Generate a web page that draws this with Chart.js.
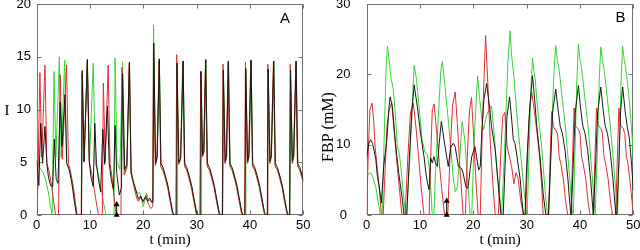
<!DOCTYPE html>
<html><head><meta charset="utf-8">
<script src="https://cdn.jsdelivr.net/npm/chart.js@4.4.1/dist/chart.umd.min.js"></script>
<style>
html,body{margin:0;padding:0;background:#fff;}
#wrap{position:relative;width:640px;height:250px;}
canvas{position:absolute;top:0;}
#ca{left:0}
#cb{left:320px}
</style></head><body>
<div id="wrap"><canvas id="ca" width="320" height="250"></canvas><canvas id="cb" width="320" height="250"></canvas></div>
<script>
// ---- tick labels ----
const xTicks = [0,10,20,30,40,50];
const aTicks = [0,5,10,15,20];
const bTicks = [0,10,20,30];
// ---- marker (arrow at t = 15) ----
const markerA = [[15,0],[15,1]];
const markerB = [[15,0],[15,2]];

// ---- Panel A : I(t) ----
const A_black = [[0,5.2],[0.4,2.8],[0.75,8.7],[1.1,4.9],[1.55,8.4],[1.9,4.9],[2.2,3.6],[2.6,2.8],[3.0,2.7],[3.3,7.2],[3.65,3.4],[4.0,3.0],[4.4,10.7],[4.75,6.5],[5.3,11.4],[5.65,4.9],[6.1,4.3],[6.6,3.0],[7.1,1.2],[7.5,0],[8.4,0],[8.55,13.7],[8.9,5.1],[9.5,14.75],[9.85,5.2],[10.2,3.5],[10.6,2.7],[10.9,8.7],[11.2,4.9],[11.6,3.3],[12.0,2.2],[12.4,8.1],[12.75,4.8],[13.25,10.3],[13.6,4.9],[14.0,3.3],[14.4,2.4],[14.7,8.5],[15.0,4.0],[15.5,1.9],[15.9,2.6],[16.1,13.4],[16.5,4.3],[16.9,4.8],[17.4,14.5],[17.7,4.1],[18.1,3.2],[18.75,2.1],[19.1,1.5],[19.5,1.8],[19.9,1.3],[20.4,1.7],[20.8,1.3],[21.2,1.6],[21.6,1.2],[21.8,1.2],
[21.95,16.3],[22.3,4.9],[22.6,5.6],[23.0,14.8],[23.3,4.9],[23.7,4.5],[24.1,3.8],[24.6,2.8],[25.1,1.4],[25.5,0.3],[25.7,0],[26.15,0],[26.3,14.4],[26.65,5.0],[27.0,5.4],[27.45,14.6],[27.75,4.9],[28.15,4.5],[28.55,3.8],[29.05,2.8],[29.55,1.4],[29.95,0.3],[30.15,0],[30.65,0],[30.8,13.6],[31.1,5.7],[31.35,6.0],[31.7,14.75],[32.0,4.9],[32.4,4.5],[32.8,3.8],[33.3,2.8],[33.8,1.4],[34.2,0.3],[34.4,0],[34.85,0],[35.0,13.7],[35.35,5.1],[35.6,5.6],[35.95,14.6],[36.25,4.9],[36.65,4.5],[37.05,3.8],[37.55,2.8],[38.05,1.4],[38.45,0.3],[38.65,0],[39.05,0],[39.2,13.9],[39.55,5.1],[39.8,5.6],[40.2,14.7],[40.5,4.9],[40.9,4.5],[41.3,3.8],[41.8,2.8],[42.3,1.4],[42.7,0.3],[42.9,0],[43.25,0],[43.4,13.8],[43.75,5.1],[44.0,5.6],[44.45,14.6],[44.75,4.9],[45.15,4.5],[45.55,3.8],[46.05,2.8],[46.55,1.4],[46.95,0.3],[47.15,0],[47.45,0],[47.6,13.7],[47.95,5.1],[48.2,5.6],[48.65,14.6],[48.95,4.9],[49.35,4.5],[49.75,3.8],[50,3.3]];
const A_red = [[0,0],[0.1,0],[0.6,13.5],[0.95,5.5],[1.55,14.2],[1.9,4.9],[2.3,4.2],[2.8,2.8],[3.2,1.2],[3.55,0],[4.1,0],[4.4,13.3],[4.8,5.3],[5.6,14.2],[5.95,4.9],[6.4,4.0],[6.9,2.6],[7.3,1.0],[7.6,0],[8.35,0],[8.5,13.4],[8.85,5.0],[9.5,14.5],[9.85,5.0],[10.3,4.0],[10.8,2.4],[11.3,0.8],[11.6,0],[12.3,0],[12.5,12.5],[12.85,5.0],[13.4,14.2],[13.75,4.9],[14.2,3.3],[14.6,1.2],[14.9,0],[15.8,0],[16.0,14.0],[16.4,3.8],[16.9,4.4],[17.35,14.4],[17.7,3.9],[18.2,2.8],[18.75,1.6],[19.05,1.3],[19.55,1.7],[20.0,1.2],[20.5,1.9],[20.9,1.1],[21.4,0.6],[21.75,0.8],
[21.9,16.0],[22.25,4.7],[22.55,5.4],[22.95,14.6],[23.25,4.6],[23.65,4.2],[24.05,3.6],[24.55,2.6],[25.05,1.2],[25.45,0.2],[25.65,0],[26.1,0],[26.25,15.2],[26.6,4.8],[26.95,5.3],[27.4,14.5],[27.7,4.7],[28.1,4.3],[28.5,3.6],[29.0,2.6],[29.5,1.2],[29.9,0.2],[30.1,0],[30.6,0],[30.75,13.6],[31.05,5.5],[31.3,5.9],[31.65,14.6],[31.95,4.7],[32.35,4.3],[32.75,3.6],[33.25,2.6],[33.75,1.2],[34.15,0.2],[34.35,0],[34.8,0],[34.95,14.3],[35.3,4.9],[35.55,5.5],[35.9,14.5],[36.2,4.7],[36.6,4.3],[37.0,3.6],[37.5,2.6],[38.0,1.2],[38.4,0.2],[38.6,0],[39.0,0],[39.15,14.5],[39.5,4.9],[39.75,5.5],[40.15,14.6],[40.45,4.7],[40.85,4.3],[41.25,3.6],[41.75,2.6],[42.25,1.2],[42.65,0.2],[42.85,0],[43.2,0],[43.35,14.3],[43.7,4.9],[43.95,5.5],[44.4,14.5],[44.7,4.7],[45.1,4.3],[45.5,3.6],[46.0,2.6],[46.5,1.2],[46.9,0.2],[47.1,0],[47.4,0],[47.55,14.3],[47.9,4.9],[48.15,5.5],[48.6,14.5],[48.9,4.7],[49.3,4.3],[49.7,3.6],[50,3.1]];
const A_green = [[0,10.8],[0.4,4.6],[0.8,4.3],[1.3,3.9],[1.75,3.2],[2.2,2.1],[2.6,0.8],[2.9,0],[3.05,0],[3.25,13.6],[3.6,5.5],[4.25,15.0],[4.6,5.5],[5.25,14.7],[5.6,4.9],[6.1,4.3],[6.55,3.3],[7.0,1.7],[7.45,0],[8.4,0],[8.55,13.6],[8.9,5.1],[9.5,14.7],[9.9,5.2],[10.6,14.4],[11.0,4.9],[11.5,4.0],[12.1,2.4],[12.6,1.0],[13.0,0],[14.5,0],[14.7,14.9],[15.05,5.0],[15.6,4.3],[16.1,14.5],[16.5,4.0],[16.95,4.6],[17.4,14.5],[17.7,4.2],[18.2,3.0],[18.75,2.1],[19.35,2.1],[19.7,1.4],[20.0,0.8],[20.6,2.05],[20.9,1.5],[21.2,1.3],[21.78,1.3],
[21.92,18.0],[22.3,4.8],[22.6,5.5],[23.0,14.8],[23.3,4.6],[23.7,4.3],[24.1,3.7],[24.6,2.7],[25.1,1.3],[25.5,0.2],[25.7,0],[26.17,0],[26.32,14.4],[26.67,4.8],[27.0,5.3],[27.47,14.6],[27.77,4.5],[28.17,4.3],[28.57,3.7],[29.07,2.7],[29.57,1.3],[29.97,0.2],[30.17,0],[30.67,0],[30.82,13.6],[31.12,5.5],[31.37,5.9],[31.72,14.7],[32.02,4.5],[32.42,4.3],[32.82,3.7],[33.32,2.7],[33.82,1.3],[34.22,0.2],[34.42,0],[34.87,0],[35.02,13.7],[35.37,4.9],[35.62,5.5],[35.97,14.6],[36.27,4.5],[36.67,4.3],[37.07,3.7],[37.57,2.7],[38.07,1.3],[38.47,0.2],[38.67,0],[39.07,0],[39.22,13.9],[39.57,4.9],[39.82,5.5],[40.22,14.7],[40.52,4.5],[40.92,4.3],[41.32,3.7],[41.82,2.7],[42.32,1.3],[42.72,0.2],[42.92,0],[43.27,0],[43.42,13.8],[43.77,4.9],[44.02,5.5],[44.47,14.6],[44.77,4.5],[45.17,4.3],[45.57,3.7],[46.07,2.7],[46.57,1.3],[46.97,0.2],[47.17,0],[47.47,0],[47.62,13.7],[47.97,4.9],[48.22,5.5],[48.67,14.6],[48.97,4.5],[49.37,4.3],[49.77,3.7],[50,3.2]];

// ---- Panel B : FBP (mM) ----
const B_black = [[0,8.3],[0.4,10.2],[0.75,10.7],[1.1,10.2],[1.7,8.0],[2.0,5.5],[2.35,4.0],[2.75,1.7],[3.2,7.0],[3.75,10.5],[4.2,15.4],[4.4,16.8],[4.8,15.4],[5.4,10.2],[6.0,6.0],[6.7,2.1],[7.0,0],[7.5,0],[8.0,8],[8.5,15],[8.9,18.5],[9.5,15.4],[10.1,11.6],[10.75,8.3],[11.1,6.0],[11.4,4.5],[11.7,3.6],[12.0,8.1],[12.3,7.4],[12.6,8.3],[12.9,7.4],[13.25,6.9],[13.6,10.2],[14.0,13.3],[14.5,10.7],[14.9,8.8],[15.3,6.9],[15.8,9.7],[16.25,10.2],[16.6,9.7],[16.9,8.3],[17.2,6.9],[17.8,6.6],[18.1,5.9],[18.6,4.0],[19.0,3.8],[19.4,6.5],[19.7,8.3],[20.3,9.7],[20.6,8.3],[21.0,6.4],[21.3,6.9],[21.6,12],[22.0,16.5],[22.5,18.7],[23.1,15.0],[23.4,12.6],[24.1,9.3],[24.7,4.0],[25.2,0],[25.6,0],[26.0,8],[26.3,14.0],[26.8,16.8],[27.2,13.5],[27.5,10.7],[27.8,10.2],[28.1,8.8],[28.8,5.0],[29.1,2.2],[29.4,0],[29.7,0],[30.0,7],[30.4,13],[30.6,15.5],[31.1,19.8],[31.5,16.4],[31.9,12.6],[32.5,8.3],[33.1,3.0],[33.6,0],[34.1,0],[34.5,7.5],[34.85,14.5],[35.45,17.9],[35.9,14.9],[36.3,12.6],[36.7,11.6],[37.2,9.2],[37.75,5.0],[38.05,2.0],[38.3,0],[38.35,0],[38.75,7.5],[39.1,14.5],[39.7,18.4],[40.15,14.9],[40.55,12.6],[40.95,11.6],[41.45,9.2],[42.0,5.0],[42.3,2.0],[42.5,0],[42.55,0],[42.95,7.5],[43.3,14.5],[43.9,18.2],[44.35,14.9],[44.75,12.6],[45.15,11.6],[45.65,9.2],[46.2,5.0],[46.5,2.0],[46.75,0],[46.9,0],[47.3,7.5],[47.6,14.5],[48.0,18.2],[48.45,14.9],[48.85,12.6],[49.25,11.0],[49.7,7.0],[50,3.5]];
const B_red = [[0,0],[0.3,9],[0.6,15.0],[1.0,15.9],[1.3,13.5],[1.6,9.5],[2.0,6.5],[2.4,3.5],[2.75,0],[3.1,0],[3.4,5.5],[3.8,12.5],[4.2,15.0],[4.7,15.9],[5.1,12.5],[5.6,8.0],[6.1,4.0],[6.6,0],[7.2,0],[7.7,8.0],[8.2,14.5],[8.75,15.9],[9.2,12.8],[9.7,8.5],[10.2,4.0],[10.75,0],[11.7,0],[12.0,8],[12.3,15.0],[12.65,15.8],[13.1,12],[13.6,7.5],[14.1,3.5],[14.6,0],[15.2,0],[15.6,8.0],[16.1,15.5],[16.6,17.5],[17.0,13],[17.5,6.5],[18.1,0],[18.5,0],[18.9,9],[19.3,15],[19.65,16.7],[20.0,12],[20.4,6],[20.9,0],[21.3,0],[21.7,13],[22.3,25.5],[22.7,19],[23.2,10],[23.7,4],[24.1,0],[24.7,0],[25.1,8],[25.5,14.0],[25.9,14.6],[26.3,10.0],[26.7,8.5],[27.2,6.8],[27.6,4.4],[28.0,6.0],[28.4,5.2],[28.9,2.0],[29.4,0],[29.8,0],[30.2,9],[30.6,15.5],[30.95,17.4],[31.4,15.0],[31.9,12.0],[32.4,8.5],[32.8,4.5],[33.1,0],[34.1,0],[34.4,8],[34.7,14.7],[35.0,12.6],[35.5,12.0],[35.8,11.5],[36.1,8.3],[36.4,7.3],[36.9,5.0],[37.3,2.0],[37.7,0],[38.3,0],[38.6,8],[38.9,15.2],[39.2,12.6],[39.7,12.2],[40.0,11.6],[40.3,8.3],[40.6,7.3],[41.1,5.0],[41.5,2.0],[41.9,0],[42.5,0],[42.8,8],[43.1,15.2],[43.4,12.8],[43.9,12.3],[44.2,11.6],[44.5,8.3],[44.8,7.3],[45.3,5.0],[45.7,2.0],[46.1,0],[46.7,0],[47.0,8],[47.3,15.2],[47.6,12.8],[48.1,12.3],[48.4,11.6],[48.7,8.3],[49.0,7.3],[49.5,4.0],[50,0]];
const B_green = [[0,5.5],[0.4,5.9],[0.75,6.0],[1.1,5.5],[1.7,4.0],[2.3,1.2],[2.6,0],[2.9,0],[3.3,11.6],[3.65,21.1],[3.9,24.0],[4.2,22.0],[4.5,19.7],[5.0,17.8],[5.4,14],[5.75,9.7],[6.1,8.8],[6.4,6.9],[6.8,3.5],[7.3,0],[7.5,0],[8.0,7],[8.6,16.5],[8.9,21.3],[9.35,19.2],[9.8,15.5],[10.4,10.7],[10.9,9.0],[11.4,8.5],[11.7,6.9],[12.0,4.0],[12.3,0],[12.6,0],[12.9,6],[13.5,15],[13.9,20.5],[14.2,21.9],[14.8,17.3],[15.3,13.5],[15.8,9.3],[16.2,5.5],[16.6,3.3],[17.0,4.0],[17.5,8.8],[17.9,13.3],[18.4,10.7],[18.9,5.0],[19.4,0],[19.7,0],[20.2,11.6],[20.8,19.8],[21.2,16.4],[21.6,13.5],[21.9,12.1],[22.5,14.2],[23.4,15.5],[23.9,11.6],[24.5,5.8],[25.3,0],[25.8,8],[26.2,16],[26.5,22],[26.9,26.2],[27.15,23],[27.4,21.1],[27.6,19.7],[27.9,16.8],[28.3,13.0],[28.9,8.3],[29.5,3.6],[30.0,0],[30.1,0],[30.5,10],[30.8,18],[31.1,22.3],[31.35,20.5],[31.6,19.4],[31.9,16.4],[32.4,12.6],[32.8,9.8],[33.4,4],[33.9,0],[34.1,0],[34.5,8],[34.8,14],[35.1,20],[35.45,24.1],[35.75,22],[36.0,21.1],[36.3,19.2],[36.7,16.4],[37.2,13.0],[37.8,7.8],[38.3,3.1],[38.6,0],[38.75,0],[39.1,10],[39.4,19],[39.7,24.3],[40.0,22],[40.25,21.1],[40.55,19.2],[40.95,16.4],[41.45,13.0],[42.05,7.8],[42.55,3.1],[42.85,0],[42.95,0],[43.3,10],[43.6,19],[43.9,23.9],[44.2,22],[44.45,21],[44.75,19.2],[45.15,16.4],[45.65,13],[46.25,7.8],[46.75,3.1],[47.05,0],[47.1,0],[47.4,10],[47.7,19],[48.0,24.0],[48.3,22],[48.55,21],[48.85,19.2],[49.25,16.4],[49.6,13],[50,8.5]];

const BLACK = 'rgb(25,25,25)', RED = 'rgb(230,45,50)', GREEN = 'rgb(50,215,50)';
const FRAME = '#707070';

const pts = arr => arr.map(([x, y]) => ({x, y}));

const decor = {
  id: 'decor',
  beforeDatasetsDraw(chart, args, o) {
    const {ctx, chartArea: a, scales: {x, y}} = chart;
    ctx.save();
    ctx.strokeStyle = FRAME; ctx.lineWidth = 1;
    const L = Math.round(a.left) + 0.5, R = Math.round(a.right) - 0.5, T = Math.round(a.top) + 0.5, B = Math.round(a.bottom) - 0.5;
    ctx.strokeRect(L, T, R - L, B - T);
    ctx.beginPath();
    x.ticks.forEach(t => {
      const p = Math.round(x.getPixelForValue(t.value)) + 0.5;
      ctx.moveTo(p, B); ctx.lineTo(p, B - 4);
      ctx.moveTo(p, T); ctx.lineTo(p, T + 4);
    });
    y.ticks.forEach(t => {
      const p = Math.round(y.getPixelForValue(t.value)) + 0.5;
      ctx.moveTo(L, p); ctx.lineTo(L + 4, p);
      ctx.moveTo(R, p); ctx.lineTo(R - 4, p);
    });
    ctx.stroke();
    ctx.restore();
  },
  afterDraw(chart, args, o) {
    const {ctx, chartArea: a} = chart;
    ctx.save();
    ctx.fillStyle = '#000';
    ctx.textAlign = 'center'; ctx.textBaseline = 'middle';
    ctx.font = '15px "Liberation Sans", Arial, sans-serif';
    ctx.fillText(o.letter, o.letterX, o.letterY);
    ctx.font = '15px "Liberation Serif", "Times New Roman", serif';
    ctx.fillText('t (min)', (a.left + a.right) / 2, 240);
    ctx.font = o.ylabFont;
    ctx.translate(o.ylabX, o.ylabY);
    if (o.ylabRot) ctx.rotate(-Math.PI / 2);
    ctx.fillText(o.ylab, 0, 0);
    ctx.restore();
  }
};

function makeChart(id, series, marker, yTicks, yMax, yWidth, rightPad, labelPad, dec) {
  const tickFont = {family: '"Liberation Sans", Arial, sans-serif', size: 13};
  return new Chart(document.getElementById(id), {
    type: 'line',
    data: {
      datasets: [
        {data: pts(marker), borderColor: '#000', backgroundColor: '#000', borderWidth: 1, pointStyle: 'triangle', pointRadius: 3.5, pointBorderWidth: 0, clip: false},
        {data: pts(series[0]), borderColor: BLACK},
        {data: pts(series[1]), borderColor: RED},
        {data: pts(series[2]), borderColor: GREEN}
      ]
    },
    options: {
      responsive: false, animation: false, maintainAspectRatio: false,
      layout: {padding: {top: 4, right: rightPad, left: 0, bottom: 0}},
      elements: {point: {radius: 0}, line: {borderWidth: 1, tension: 0, fill: false}},
      plugins: {legend: {display: false}, tooltip: {enabled: false}, decor: dec},
      scales: {
        x: {type: 'linear', min: 0, max: 50,
          afterBuildTicks: s => { s.ticks = xTicks.map(v => ({value: v})); },
          ticks: {font: tickFont, color: '#000', padding: 3, maxRotation: 0, autoSkip: false},
          grid: {display: false, drawTicks: false}, border: {display: false},
          afterFit: s => { s.height = 35; s.paddingLeft = 0; s.paddingRight = 0; }},
        y: {type: 'linear', min: 0, max: yMax,
          afterBuildTicks: s => { s.ticks = yTicks.map(v => ({value: v})); },
          ticks: {font: tickFont, color: '#000', padding: labelPad, crossAlign: 'center', autoSkip: false},
          grid: {display: false, drawTicks: false}, border: {display: false},
          afterFit: s => { s.width = yWidth; s.paddingTop = 0; s.paddingBottom = 0; }}
      }
    },
    plugins: [decor]
  });
}

makeChart('ca', [A_black, A_red, A_green], markerA, aTicks, 20, 36.7, 16.7, 5.8,
  {letter: 'A', letterX: 285, letterY: 18.5, ylab: 'I', ylabX: 7, ylabY: 111, ylabRot: false,
   ylabFont: '15px "Liberation Serif", "Times New Roman", serif'});
makeChart('cb', [B_black, B_red, B_green], markerB, bTicks, 30, 46.7, 6.7, 16.2,
  {letter: 'B', letterX: 300.5, letterY: 18, ylab: 'FBP (mM)', ylabX: 9, ylabY: 127, ylabRot: true,
   ylabFont: '16px "Liberation Serif", "Times New Roman", serif'});
</script>
</body></html>
